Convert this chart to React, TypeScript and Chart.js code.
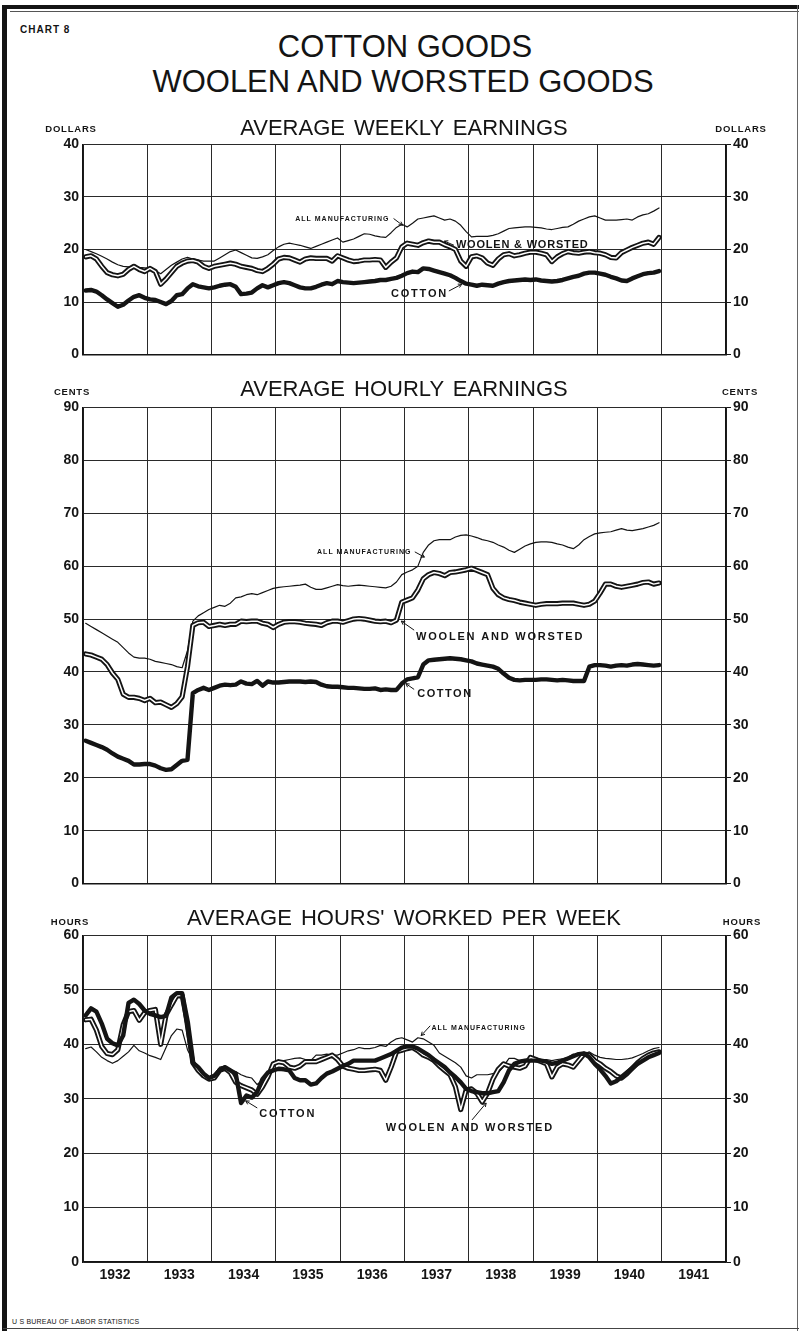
import React, { useEffect, useRef } from "react";
import { Chart, registerables } from "chart.js";

Chart.register(...registerables);

const FONT = "'Liberation Sans', Arial, Helvetica, sans-serif";
const INK = "#141414";

// ---------- categories / ticks ----------
const YEARS = [1932, 1933, 1934, 1935, 1936, 1937, 1938, 1939, 1940, 1941];
const WEEKLY_TICKS = [0, 10, 20, 30, 40];
const HOURLY_TICKS = [0, 10, 20, 30, 40, 50, 60, 70, 80, 90];
const HOURS_TICKS = [0, 10, 20, 30, 40, 50, 60];

// ---------- monthly series, Jan 1932 – Dec 1940 ----------
// Average weekly earnings (dollars)
const allMfgWeekly = [
  20.0, 19.6, 19.2, 18.7, 18.2, 17.6, 17.1, 16.8, 16.7, 16.8, 16.6, 16.5,
  16.4, 16.0, 15.4, 16.2, 17.0, 17.6, 18.2, 18.5, 18.2, 18.0, 17.8, 17.8,
  17.8, 18.4, 19.0, 19.6, 19.9, 19.4, 18.9, 18.4, 18.3, 18.6, 19.0, 19.8,
  20.5, 21.0, 21.2, 21.0, 20.8, 20.5, 20.2, 20.6, 21.0, 21.4, 21.8, 22.2,
  21.4, 21.7, 22.0, 22.5, 23.0, 22.9, 22.6, 22.4, 22.3, 23.2, 24.2, 24.8,
  24.3, 25.0, 25.8, 26.0, 26.2, 26.4, 26.0, 25.6, 25.8, 25.4, 24.6, 23.4,
  22.4, 22.5, 22.5, 22.5, 22.7, 23.0, 23.5, 24.0, 24.1, 24.2, 24.3, 24.3,
  24.2, 24.1, 23.9, 23.8, 24.0, 24.2, 24.3, 24.8, 25.4, 25.8, 26.2, 26.4,
  26.0, 25.6, 25.6, 25.6, 25.7, 25.8, 25.6, 26.2, 26.6, 26.8, 27.3, 27.9,
];
const woolenWeekly = [
  18.6, 18.8, 18.2, 16.8, 15.6, 15.2, 15.0, 15.3, 16.2, 16.8, 16.2, 15.8,
  16.4, 15.8, 13.4, 14.4, 15.6, 16.8, 17.4, 17.8, 17.9, 17.6, 16.8, 16.4,
  16.8, 17.0, 17.2, 17.4, 17.2, 16.8, 16.6, 16.4, 16.0, 15.8, 16.4, 17.2,
  18.2, 18.5, 18.4, 18.0, 17.6, 18.2, 18.4, 18.3, 18.3, 18.3, 17.8, 18.8,
  18.4, 18.0, 17.7, 17.8, 18.0, 18.0, 18.1, 18.0, 16.6, 17.6, 18.4, 20.5,
  21.2, 21.0, 20.8, 21.3, 21.6, 21.4, 21.4, 20.9, 20.5, 20.0, 17.8, 16.8,
  18.6, 18.8, 18.4, 17.4, 17.0, 18.2, 19.0, 19.2, 18.8, 19.0, 19.3, 19.5,
  19.5, 19.3, 19.0, 17.7, 18.6, 19.2, 19.6, 19.4, 19.3, 19.5, 19.6, 19.4,
  19.3, 19.0, 18.5, 18.4, 19.4, 19.9, 20.4, 20.8, 21.2, 21.4, 21.0, 22.3,
];
const cottonWeekly = [
  12.2, 12.3, 12.0, 11.3, 10.5, 9.8, 9.1, 9.5, 10.3, 11.0, 11.3, 10.8,
  10.5, 10.4, 10.0, 9.6, 10.2, 11.3, 11.5, 12.6, 13.4, 13.0, 12.8, 12.6,
  12.8, 13.1, 13.3, 13.4, 12.9, 11.5, 11.6, 11.8, 12.6, 13.2, 12.8, 13.2,
  13.6, 13.8, 13.6, 13.2, 12.8, 12.6, 12.6, 12.9, 13.3, 13.6, 13.4, 14.0,
  13.8, 13.7, 13.6, 13.7, 13.8, 13.9, 14.0, 14.2, 14.2, 14.4, 14.6, 15.0,
  15.5, 15.8, 15.7, 16.4, 16.3, 16.0, 15.7, 15.4, 15.1, 14.6, 14.0, 13.5,
  13.3, 13.1, 13.3, 13.2, 13.1, 13.5, 13.8, 14.0, 14.1, 14.2, 14.3, 14.2,
  14.3, 14.1, 14.0, 13.9, 14.0, 14.2, 14.5, 14.8, 15.0, 15.4, 15.6, 15.6,
  15.4, 15.2, 14.8, 14.5, 14.1, 14.0, 14.5, 14.9, 15.3, 15.5, 15.6, 15.9,
];

// Average hourly earnings (cents)
const allMfgHourly = [
  49.2, 48.6, 48.0, 47.4, 46.8, 46.2, 45.6, 44.6, 43.6, 42.8, 42.6, 42.6,
  42.4, 42.0, 41.8, 41.6, 41.4, 41.0, 40.8, 44.0, 49.6, 50.6, 51.2, 51.8,
  52.2, 52.6, 52.4, 53.0, 54.0, 54.2, 54.6, 54.8, 54.6, 55.0, 55.4, 55.8,
  56.0, 56.1, 56.2, 56.3, 56.4, 56.6, 56.0, 55.6, 55.6, 55.9, 56.2, 56.5,
  56.3, 56.2, 56.3, 56.4, 56.3, 56.2, 56.1, 56.0, 55.9, 56.2, 57.0, 58.4,
  58.9, 59.3, 60.0, 62.6, 64.0, 64.8, 65.0, 65.0, 65.0, 65.5, 65.8, 65.9,
  65.7, 65.4, 65.0, 64.8, 64.5, 64.0, 63.6, 63.0, 62.6, 63.2, 63.8, 64.2,
  64.5, 64.6, 64.6, 64.5, 64.2, 64.0, 63.6, 63.3, 64.0, 65.0, 65.6, 66.1,
  66.3, 66.4, 66.5, 66.8, 67.1, 66.8, 66.7, 66.9, 67.1, 67.4, 67.7, 68.2,
];
const woolenHourly = [
  43.4, 43.2, 42.8, 42.4, 41.4, 39.8, 38.6, 35.8, 35.2, 35.2, 35.0, 34.6,
  35.0, 34.2, 34.3, 33.8, 33.3, 34.0, 35.3, 41.0, 48.8, 49.3, 49.4, 48.6,
  48.8, 49.0, 48.8, 49.0, 49.0, 49.6, 49.5, 49.6, 49.6, 49.2, 49.0, 48.4,
  49.0, 49.4, 49.5, 49.5, 49.4, 49.2, 49.1, 49.0, 48.8, 49.3, 49.6, 49.6,
  49.4, 49.7, 50.0, 50.1, 50.0, 49.8, 49.6, 49.5, 49.6, 49.3, 49.8, 53.2,
  53.6, 54.0, 55.5, 57.6, 58.4, 58.8, 58.6, 58.2, 58.8, 58.9, 59.1, 59.3,
  59.6, 59.2, 58.8, 58.4, 55.8, 54.6, 54.0, 53.7, 53.5, 53.2, 53.0, 52.8,
  52.6, 52.8, 52.9, 52.9, 52.9, 53.0, 53.0, 53.0, 52.8, 52.6, 52.8, 53.4,
  54.9, 56.6, 56.6, 56.2, 56.0, 56.2, 56.4, 56.6, 56.9, 57.0, 56.6, 56.8,
];
const cottonHourly = [
  27.0, 26.6, 26.2, 25.8, 25.3, 24.6, 24.0, 23.6, 23.2, 22.5, 22.5, 22.6,
  22.6, 22.3, 21.8, 21.5, 21.6, 22.4, 23.2, 23.4, 36.0, 36.6, 37.0, 36.6,
  37.0, 37.4, 37.6, 37.5, 37.6, 38.2, 37.8, 37.7, 38.3, 37.4, 38.2, 38.0,
  38.0, 38.1, 38.2, 38.2, 38.2, 38.1, 38.2, 38.1, 37.6, 37.3, 37.2, 37.2,
  37.1, 37.0, 37.0, 36.9, 36.8, 36.8, 36.9, 36.6, 36.7, 36.6, 36.6, 37.8,
  38.6, 38.8, 39.0, 41.4, 42.2, 42.3, 42.4, 42.5, 42.6, 42.5, 42.4, 42.2,
  42.0, 41.6, 41.4, 41.2, 41.0, 40.6, 39.7, 38.9, 38.5, 38.4, 38.5, 38.5,
  38.5, 38.6, 38.6, 38.5, 38.4, 38.5, 38.4, 38.3, 38.3, 38.3, 41.0, 41.3,
  41.3, 41.2, 41.0, 41.2, 41.3, 41.2, 41.4, 41.5, 41.4, 41.3, 41.2, 41.3,
];

// Average hours worked per week
const allMfgHours = [
  39.2, 39.5, 38.6, 37.6, 37.0, 36.5, 37.0, 37.8, 38.6, 39.8, 38.8, 38.4,
  37.9, 37.6, 37.2, 39.4, 41.6, 42.8, 42.6, 39.0, 37.0, 35.6, 34.6, 34.0,
  34.4, 35.8, 36.0, 35.2, 35.0, 34.4, 34.0, 33.8, 32.6, 33.4, 34.0, 36.2,
  36.8, 37.0, 37.2, 37.4, 37.5, 37.2, 37.0, 38.0, 38.0, 38.2, 38.0, 38.0,
  38.4, 38.8, 39.0, 39.4, 39.2, 39.2, 39.4, 39.8, 39.6, 40.4, 41.0, 41.2,
  40.8, 40.4, 41.2, 41.0, 40.4, 39.8, 38.4, 37.8, 37.2, 36.6, 35.8, 34.2,
  33.8, 34.4, 34.4, 34.4, 34.6, 34.8, 36.0, 37.4, 37.4, 37.0, 37.2, 37.5,
  37.5, 37.2, 37.2, 37.0, 37.2, 37.3, 37.6, 38.2, 38.0, 38.2, 38.6, 38.0,
  37.6, 37.4, 37.3, 37.2, 37.2, 37.3, 37.5, 37.9, 38.3, 38.8, 39.2, 39.4,
];
const woolenHours = [
  44.5, 44.6, 42.6, 39.6, 38.3, 38.1, 39.0, 43.6, 46.0, 46.2, 44.4, 45.8,
  46.2, 46.4, 40.0, 45.4, 47.2, 48.9, 49.0, 44.0, 36.6, 35.2, 34.2, 33.6,
  33.8, 35.2, 35.6, 34.8, 33.0, 32.4, 32.0, 31.6, 30.8, 32.2, 34.0, 36.4,
  36.8, 36.6, 35.8, 35.6, 36.0, 36.8, 36.8, 36.8, 37.2, 37.6, 38.0, 37.2,
  36.0, 35.6, 35.4, 35.2, 35.2, 35.3, 35.4, 35.2, 33.4, 35.8, 38.6, 38.9,
  39.2, 39.4, 38.8, 38.0, 37.6, 37.0, 36.0, 35.2, 34.4, 32.2, 28.0, 31.6,
  31.8, 31.0, 29.4, 31.0, 33.6, 35.4, 36.4, 36.0, 35.8, 35.6, 36.0, 37.6,
  37.2, 36.8, 36.4, 34.0, 35.8, 36.4, 36.2, 35.8, 37.0, 38.2, 38.0, 37.0,
  36.4, 35.6, 35.0, 34.2, 33.8, 34.6, 35.6, 36.6, 37.4, 38.0, 38.4, 38.6,
];
const cottonHours = [
  45.3, 46.6, 46.0, 43.8, 41.0, 40.2, 39.8, 41.6, 47.6, 48.2, 47.4, 46.2,
  45.6, 45.3, 45.0, 45.2, 48.6, 49.4, 49.4, 43.0, 36.6, 35.8, 34.6, 33.8,
  34.2, 35.2, 35.8, 35.2, 34.6, 29.2, 30.6, 30.2, 31.2, 33.6, 34.8, 35.2,
  35.5, 35.4, 35.2, 33.8, 33.4, 33.4, 32.6, 32.8, 33.8, 34.6, 35.0, 35.5,
  36.0, 36.4, 37.0, 37.0, 37.0, 37.0, 37.0, 37.4, 37.8, 38.2, 38.8, 39.4,
  39.6, 39.6, 39.2, 38.6, 38.0, 37.2, 36.5, 35.8, 34.8, 34.0, 33.0, 31.8,
  31.4, 31.2, 31.0, 31.0, 31.2, 31.4, 33.0, 35.2, 36.4, 36.8, 37.0, 37.0,
  37.0, 37.0, 36.8, 36.4, 36.6, 37.0, 37.4, 37.8, 38.2, 38.3, 37.6, 36.4,
  35.4, 34.2, 32.8, 33.2, 34.0, 34.8, 35.6, 36.4, 37.0, 37.6, 38.0, 38.4,
];

// ---------- helpers ----------
const monthValue = (i: number) => 1932 + (i + 0.5) / 12;
const toPoints = (vals: number[]) => vals.map((v, i) => ({ x: monthValue(i), y: v }));

type Ann = {
  text: string;
  x: number;
  y: number;
  size: number;
  spacing: number;
  arrow?: [number, number, number, number];
};

const labelPlugin = {
  id: "seriesLabels",
  afterDatasetsDraw(chart: any, _args: any, opts: any) {
    const { ctx, scales } = chart;
    const xs = scales.x;
    const ys = scales.y;
    ctx.save();
    for (const a of (opts.items || []) as Ann[]) {
      ctx.font = `bold ${a.size}px ${FONT}`;
      ctx.letterSpacing = `${a.spacing}px`;
      ctx.fillStyle = INK;
      ctx.textAlign = "left";
      ctx.textBaseline = "middle";
      ctx.fillText(a.text, xs.getPixelForValue(a.x), ys.getPixelForValue(a.y));
      if (a.arrow) {
        const x1 = xs.getPixelForValue(a.arrow[0]);
        const y1 = ys.getPixelForValue(a.arrow[1]);
        const x2 = xs.getPixelForValue(a.arrow[2]);
        const y2 = ys.getPixelForValue(a.arrow[3]);
        ctx.strokeStyle = INK;
        ctx.lineWidth = 1;
        ctx.beginPath();
        ctx.moveTo(x1, y1);
        ctx.lineTo(x2, y2);
        const ang = Math.atan2(y2 - y1, x2 - x1);
        const h = 4;
        ctx.moveTo(x2, y2);
        ctx.lineTo(x2 - h * Math.cos(ang - 0.5), y2 - h * Math.sin(ang - 0.5));
        ctx.moveTo(x2, y2);
        ctx.lineTo(x2 - h * Math.cos(ang + 0.5), y2 - h * Math.sin(ang + 0.5));
        ctx.stroke();
      }
    }
    ctx.letterSpacing = "0px";
    ctx.restore();
  },
};

type PanelDef = {
  top: number;
  height: number;
  max: number;
  ticks: number[];
  showYears: boolean;
  allMfg: number[];
  woolen: number[];
  cotton: number[];
  labels: Ann[];
};

const weeklyLabels: Ann[] = [
  { text: "ALL MANUFACTURING", x: 1935.3, y: 25.7, size: 7, spacing: 1, arrow: [1936.83, 25.9, 1936.97, 24.6] },
  { text: "WOOLEN & WORSTED", x: 1937.8, y: 20.8, size: 11, spacing: 0.8, arrow: [1937.77, 20.8, 1937.62, 21.6] },
  { text: "COTTON", x: 1936.79, y: 11.5, size: 11, spacing: 1.8, arrow: [1937.69, 12.1, 1937.89, 13.4] },
];
const hourlyLabels: Ann[] = [
  { text: "ALL MANUFACTURING", x: 1935.64, y: 62.7, size: 7, spacing: 1, arrow: [1937.16, 62.7, 1937.31, 61.7] },
  { text: "WOOLEN AND WORSTED", x: 1937.18, y: 46.6, size: 11, spacing: 1.8, arrow: [1937.15, 47.9, 1936.95, 49.6] },
  { text: "COTTON", x: 1937.2, y: 35.9, size: 11, spacing: 1.5, arrow: [1937.15, 36.7, 1937.02, 37.8] },
];
const hoursLabels: Ann[] = [
  { text: "ALL MANUFACTURING", x: 1937.42, y: 42.9, size: 7, spacing: 1, arrow: [1937.4, 43.4, 1937.26, 41.6] },
  { text: "COTTON", x: 1934.74, y: 27.2, size: 11, spacing: 1.8, arrow: [1934.71, 28.3, 1934.53, 29.6] },
  { text: "WOOLEN AND WORSTED", x: 1936.71, y: 24.6, size: 11, spacing: 1.8, arrow: [1938.05, 26.1, 1938.27, 29.2] },
];

const PANELS: PanelDef[] = [
  { top: 132, height: 235, max: 40, ticks: WEEKLY_TICKS, showYears: false, allMfg: allMfgWeekly, woolen: woolenWeekly, cotton: cottonWeekly, labels: weeklyLabels },
  { top: 395, height: 501, max: 90, ticks: HOURLY_TICKS, showYears: false, allMfg: allMfgHourly, woolen: woolenHourly, cotton: cottonHourly, labels: hourlyLabels },
  { top: 923, height: 369, max: 60, ticks: HOURS_TICKS, showYears: true, allMfg: allMfgHours, woolen: woolenHours, cotton: cottonHours, labels: hoursLabels },
];

const tickFont = { family: FONT, size: 14, weight: "bold" as const };

function buildConfig(p: PanelDef): any {
  const line = { pointRadius: 0, tension: 0, fill: false, borderJoinStyle: "round", borderCapStyle: "round" };
  const yTicks = (axis: any) => {
    axis.ticks = p.ticks.map((v) => ({ value: v }));
  };
  return {
    type: "line",
    data: {
      datasets: [
        { ...line, label: "Cotton", data: toPoints(p.cotton), borderColor: INK, borderWidth: 4.4 },
        { ...line, label: "Woolen and worsted (inner)", data: toPoints(p.woolen), borderColor: "#ffffff", borderWidth: 1.5 },
        { ...line, label: "Woolen and worsted", data: toPoints(p.woolen), borderColor: INK, borderWidth: 5.2 },
        { ...line, label: "All manufacturing", data: toPoints(p.allMfg), borderColor: INK, borderWidth: 1.2 },
      ],
    },
    options: {
      animation: false,
      responsive: false,
      maintainAspectRatio: false,
      devicePixelRatio: 1,
      events: [],
      layout: { padding: { top: 10, left: 0, right: 0, bottom: 0 }, autoPadding: false },
      plugins: {
        legend: { display: false },
        tooltip: { enabled: false },
        seriesLabels: { items: p.labels },
      },
      scales: {
        x: {
          type: "linear",
          position: "bottom",
          min: 1932,
          max: 1942,
          afterBuildTicks: (axis: any) => {
            axis.ticks = [...YEARS, 1942].map((v) => ({ value: v }));
          },
          afterFit: (s: any) => {
            s.height = p.showYears ? 30 : 10;
          },
          ticks: {
            display: p.showYears,
            autoSkip: false,
            maxRotation: 0,
            minRotation: 0,
            labelOffset: 32,
            padding: 5,
            color: INK,
            font: tickFont,
            callback: (v: number) => (YEARS.includes(v) ? String(v) : ""),
          },
          grid: { color: "#2a2a2a", lineWidth: 1, drawTicks: false },
          border: { display: true, color: INK, width: 1.6 },
        },
        y: {
          type: "linear",
          position: "left",
          min: 0,
          max: p.max,
          afterBuildTicks: yTicks,
          afterFit: (s: any) => {
            s.width = 83;
          },
          ticks: { padding: 4, color: INK, font: tickFont, callback: (v: number) => String(v) },
          grid: { color: "#2a2a2a", lineWidth: 1, drawTicks: false },
          border: { display: true, color: INK, width: 1.6 },
        },
        y2: {
          type: "linear",
          position: "right",
          min: 0,
          max: p.max,
          afterBuildTicks: yTicks,
          afterFit: (s: any) => {
            s.width = 73;
          },
          ticks: { padding: 2, color: INK, font: tickFont, callback: (v: number) => String(v) },
          grid: { display: true, drawOnChartArea: false, drawTicks: true, tickLength: 5, color: INK, lineWidth: 1 },
          border: { display: true, color: INK, width: 1.6 },
        },
      },
    },
    plugins: [labelPlugin],
  };
}

function Panel({ def }: { def: PanelDef }) {
  const ref = useRef<HTMLCanvasElement | null>(null);
  useEffect(() => {
    if (!ref.current) return;
    const chart = new Chart(ref.current, buildConfig(def));
    return () => chart.destroy();
  }, [def]);
  return (
    <canvas
      ref={ref}
      width={799}
      height={def.height}
      style={{ position: "absolute", left: 0, top: def.top, width: 799, height: def.height }}
    />
  );
}

function Txt(props: { x: number; base: number; size: number; text: string; bold?: boolean; ls?: number; ws?: number; center?: boolean }) {
  const { x, base, size, text, bold, ls, ws, center } = props;
  const top = base - 0.8465 * size;
  const style: React.CSSProperties = {
    position: "absolute",
    top,
    fontFamily: FONT,
    fontSize: size,
    lineHeight: `${size}px`,
    fontWeight: bold ? 700 : 400,
    letterSpacing: ls ? `${ls}px` : undefined,
    wordSpacing: ws ? `${ws}px` : undefined,
    color: INK,
    whiteSpace: "nowrap",
  };
  if (center) {
    style.left = x - 400;
    style.width = 800;
    style.textAlign = "center";
  } else {
    style.left = x;
  }
  return <div style={style}>{text}</div>;
}

export default function App() {
  useEffect(() => {
    document.body.style.margin = "0";
    document.body.style.background = "#ffffff";
  }, []);
  return (
    <div style={{ position: "absolute", left: 0, top: 0, width: 799, height: 1331, background: "#fff", overflow: "hidden" }}>
      {/* frame */}
      <div style={{ position: "absolute", left: 3, top: 5, width: 796, height: 4, background: INK }} />
      <div style={{ position: "absolute", left: 10, top: 11, width: 789, height: 1, background: "#555" }} />
      <div style={{ position: "absolute", left: 2, top: 5, width: 5, height: 1326, background: INK }} />
      <div style={{ position: "absolute", left: 797, top: 5, width: 1, height: 1326, background: "#666" }} />
      <div style={{ position: "absolute", left: 3, top: 1328, width: 796, height: 1, background: "#444" }} />

      {PANELS.map((p, i) => (
        <Panel key={i} def={p} />
      ))}

      <Txt x={20} base={33} size={10} bold ls={1} text="CHART 8" />
      <Txt x={405} base={57} size={31} center text="COTTON GOODS" />
      <Txt x={403} base={92} size={31} center text="WOOLEN AND WORSTED GOODS" />

      <Txt x={404} base={136} size={22} center ws={3} text="AVERAGE WEEKLY EARNINGS" />
      <Txt x={71} base={132} size={9.5} bold ls={0.8} center text="DOLLARS" />
      <Txt x={741} base={132} size={9.5} bold ls={0.8} center text="DOLLARS" />

      <Txt x={404} base={397} size={22} center ws={3} text="AVERAGE HOURLY EARNINGS" />
      <Txt x={72} base={395} size={9.5} bold ls={0.8} center text="CENTS" />
      <Txt x={740} base={395} size={9.5} bold ls={0.8} center text="CENTS" />

      <Txt x={404} base={926} size={22} center ws={3} text="AVERAGE HOURS' WORKED PER WEEK" />
      <Txt x={70} base={925} size={9.5} bold ls={0.8} center text="HOURS" />
      <Txt x={742} base={925} size={9.5} bold ls={0.8} center text="HOURS" />

      <Txt x={12} base={1324} size={7} ls={0.2} text="U S BUREAU OF LABOR STATISTICS" />
    </div>
  );
}
